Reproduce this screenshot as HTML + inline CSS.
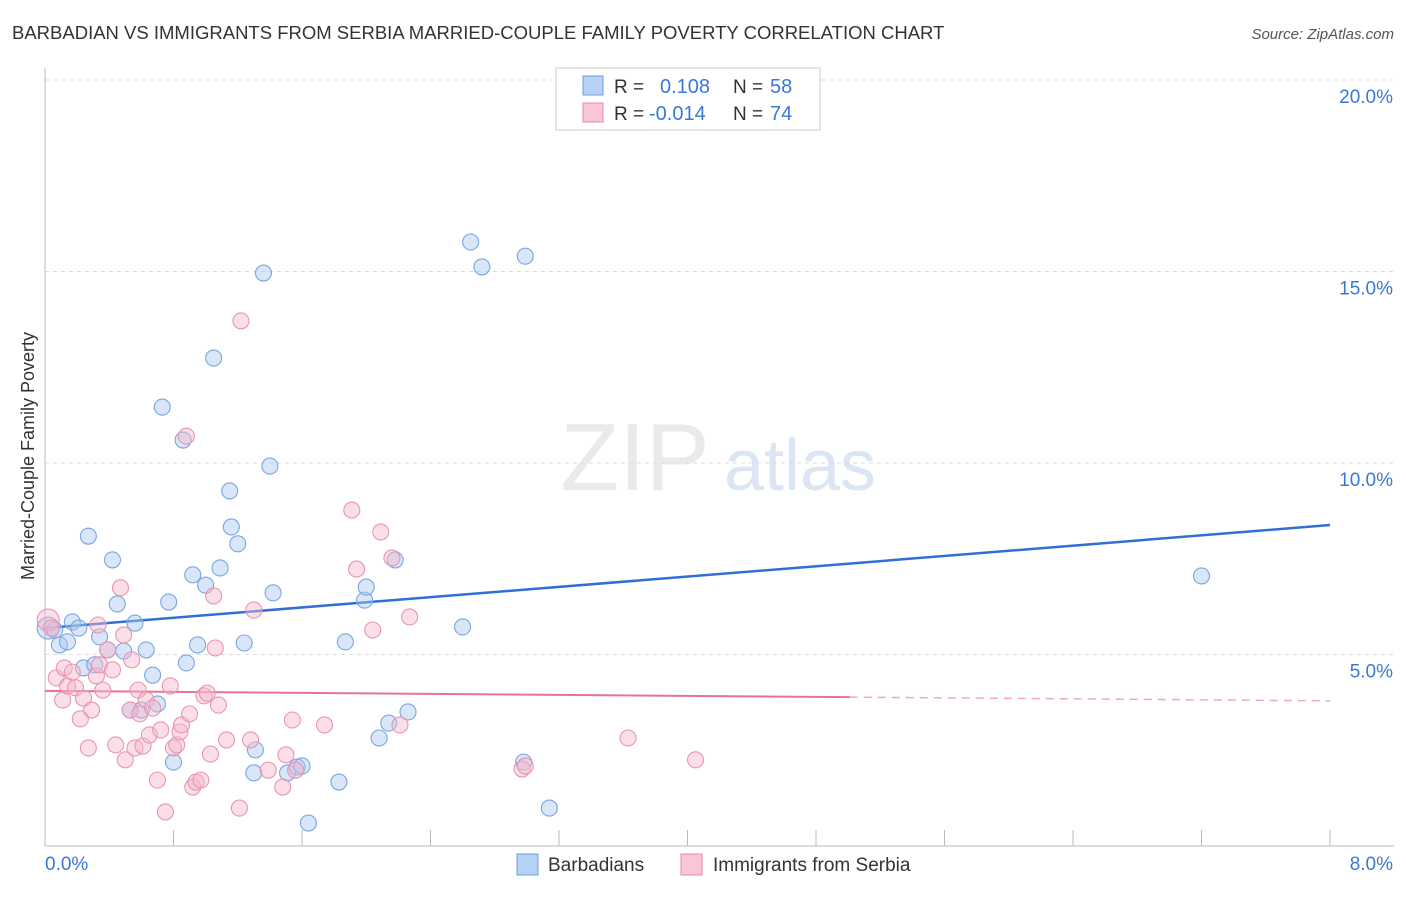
<!DOCTYPE html>
<html><head><meta charset="utf-8"><style>
body{margin:0;background:#fff;font-family:"Liberation Sans",sans-serif;}
svg text{font-family:"Liberation Sans",sans-serif;}
</style></head><body>
<svg id="chart" width="1406" height="892" xmlns="http://www.w3.org/2000/svg">
<text x="12" y="39" font-size="18.5" fill="#333">BARBADIAN VS IMMIGRANTS FROM SERBIA MARRIED-COUPLE FAMILY POVERTY CORRELATION CHART</text>
<text x="1394" y="39" font-size="15" fill="#555" text-anchor="end" font-style="italic">Source: ZipAtlas.com</text>
<g opacity="0.5">
<text x="635" y="490" font-size="96" fill="#d6d6d6" text-anchor="middle" font-family="Liberation Serif">ZIP</text>
<text x="800" y="490" font-size="72" fill="#b8cdea" text-anchor="middle">atlas</text>
</g>
<text transform="translate(34,456) rotate(-90)" font-size="18" fill="#333" text-anchor="middle">Married-Couple Family Poverty</text>
<g id="grid"></g><g id="axes"></g><g id="trend"></g><g id="pts"></g>
<g>
<rect x="556" y="68" width="264" height="62" fill="#fff" stroke="#ccc"/>
<rect x="583" y="76" width="20" height="19" fill="#b7d2f5" stroke="#6a9de0"/>
<rect x="583" y="103" width="20" height="19" fill="#f9c6d6" stroke="#e88aa8"/>
<text x="614" y="93" font-size="19" fill="#333">R = </text><text x="660" y="93" font-size="20" fill="#3a78d8">0.108</text>
<text x="733" y="93" font-size="19" fill="#333">N = </text><text x="770" y="93" font-size="20" fill="#3a78d8">58</text>
<text x="614" y="120" font-size="19" fill="#333">R = </text><text x="649" y="120" font-size="20" fill="#3a78d8">-0.014</text>
<text x="733" y="120" font-size="19" fill="#333">N = </text><text x="770" y="120" font-size="20" fill="#3a78d8">74</text>
</g>
<g>
<rect x="517" y="854" width="21" height="21" fill="#b7d2f5" stroke="#6a9de0"/>
<text x="548" y="871" font-size="19" fill="#333">Barbadians</text>
<rect x="681" y="854" width="21" height="21" fill="#f9c6d6" stroke="#e88aa8"/>
<text x="713" y="871" font-size="19" fill="#333">Immigrants from Serbia</text>
</g>
</svg>
<script>
const blueX=[.02,.06,.09,.14,.17,.21,.24,.27,.31,.34,.39,.42,.45,.49,.53,.56,.60,.63,.67,.70,.73,.77,.80,.86,.88,.92,.95,1.00,1.05,1.09,1.15,1.16,1.20,1.24,1.30,1.31,1.36,1.40,1.42,1.51,1.57,1.60,1.64,1.83,1.87,1.99,2.00,2.08,2.14,2.18,2.26,2.60,2.65,2.72,2.98,2.99,3.14,7.20];
const blueY=[5.69,5.64,5.25,5.33,5.85,5.69,4.65,8.09,4.73,5.46,5.12,7.47,6.32,5.09,3.55,5.82,3.55,5.12,4.46,3.71,11.46,6.37,2.19,10.60,4.78,7.08,5.25,6.81,12.74,7.26,9.27,8.33,7.89,5.30,1.91,2.51,14.96,9.92,6.61,1.91,2.06,2.09,0.60,1.67,5.33,6.42,6.76,2.82,3.21,7.47,3.50,5.72,15.77,15.12,2.19,15.40,0.99,7.05];
const pinkX=[.02,.04,.07,.11,.12,.14,.17,.19,.22,.24,.27,.29,.32,.33,.34,.36,.39,.42,.44,.47,.49,.50,.53,.54,.56,.58,.59,.61,.63,.65,.67,.70,.72,.75,.78,.80,.82,.84,.85,.88,.90,.92,.94,.97,.99,1.01,1.03,1.05,1.06,1.08,1.13,1.21,1.22,1.28,1.30,1.39,1.48,1.50,1.54,1.56,1.74,1.91,1.94,2.04,2.09,2.16,2.21,2.27,2.97,2.99,3.63,4.05];
const pinkY=[5.90,5.69,4.39,3.81,4.65,4.18,4.54,4.13,3.32,3.86,2.56,3.55,4.44,5.77,4.73,4.07,5.12,4.60,2.64,6.74,5.51,2.25,3.55,4.86,2.56,4.07,3.45,2.61,3.81,2.90,3.60,1.72,3.03,0.89,4.18,2.56,2.64,2.98,3.16,10.70,3.45,1.54,1.67,1.72,3.92,3.99,2.40,6.53,5.17,3.68,2.77,0.99,13.71,2.77,6.16,1.98,1.54,2.38,3.29,1.98,3.16,8.77,7.23,5.64,8.20,7.52,3.16,5.98,2.01,2.09,2.82,2.25];
const yTicks=[5,10,15,20];
const yTickLabels=["5.0%","10.0%","15.0%","20.0%"];
const xTickLabels=["0.0%","8.0%"];
const blueTrend=[5.69,8.38];
const pinkTrend=[4.05,3.79];
const pinkSolidEnd=5.01;

const NS="http://www.w3.org/2000/svg";
const X0=45,X1=1330,Y0=846,PY=38.3;
const sx=v=>X0+(v/8)*(X1-X0);
const sy=v=>Y0-v*PY;
function mk(tag,attrs,parent){const e=document.createElementNS(NS,tag);for(const k in attrs)e.setAttribute(k,attrs[k]);parent.appendChild(e);return e;}
const grid=document.getElementById('grid'),axes=document.getElementById('axes'),trend=document.getElementById('trend'),pts=document.getElementById('pts');
yTicks.forEach((t,i)=>{
  const l=mk('line',{x1:X0,x2:1394,y1:sy(t),y2:sy(t),stroke:'#ddd','stroke-dasharray':'4,4'},grid);
  
  
  const tx=mk('text',{x:1393,y:sy(t)+23,'font-size':19,fill:'#3a78d8','text-anchor':'end'},grid);
  tx.textContent=yTickLabels[i];
  
  
});
const ax=mk('line',{x1:X0,x2:X0,y1:68,y2:846,stroke:'#bbb'},axes);


const bx=mk('line',{x1:X0,x2:1394,y1:846,y2:846,stroke:'#bbb'},axes);


for(let i=0;i<=10;i++){
  const t=mk('line',{x1:sx(i*0.8),x2:sx(i*0.8),y1:830,y2:846,stroke:'#bbb'},axes);
  
  
}
[[0,'start',X0],[8,'end',1393]].forEach((d,i)=>{
  const t=mk('text',{x:d[2],y:870,'font-size':19,fill:'#3a78d8','text-anchor':d[1]},axes);
  t.textContent=xTickLabels[i];
  
  
});
function dot(x,y,fill,stroke,name,r){
  const c=mk('circle',{cx:sx(x),cy:sy(y),r:r,fill:fill,'fill-opacity':0.45,stroke:stroke,'stroke-width':1.1},pts);
  
  
}
blueX.forEach((x,i)=>dot(x,blueY[i],'#a8c8f0','#78a6e2','barbadian-point',i===0?11:8));
pinkX.forEach((x,i)=>dot(x,pinkY[i],'#f5b8cc','#eb94b0','serbia-point',i===0?11:8));
const bt=mk('line',{x1:sx(0),y1:sy(blueTrend[0]),x2:sx(8),y2:sy(blueTrend[1]),stroke:'#2f6fd6','stroke-width':2.5},trend);


const pAt=x=>pinkTrend[0]+(pinkTrend[1]-pinkTrend[0])*x/8;
const pt=mk('line',{x1:sx(0),y1:sy(pAt(0)),x2:sx(pinkSolidEnd),y2:sy(pAt(pinkSolidEnd)),stroke:'#e8709a','stroke-width':2},trend);


const pd=mk('line',{x1:sx(pinkSolidEnd),y1:sy(pAt(pinkSolidEnd)),x2:sx(8),y2:sy(pAt(8)),stroke:'#f0a8c0','stroke-width':1.5,'stroke-dasharray':'8,6'},trend);


</script>
</body></html>
